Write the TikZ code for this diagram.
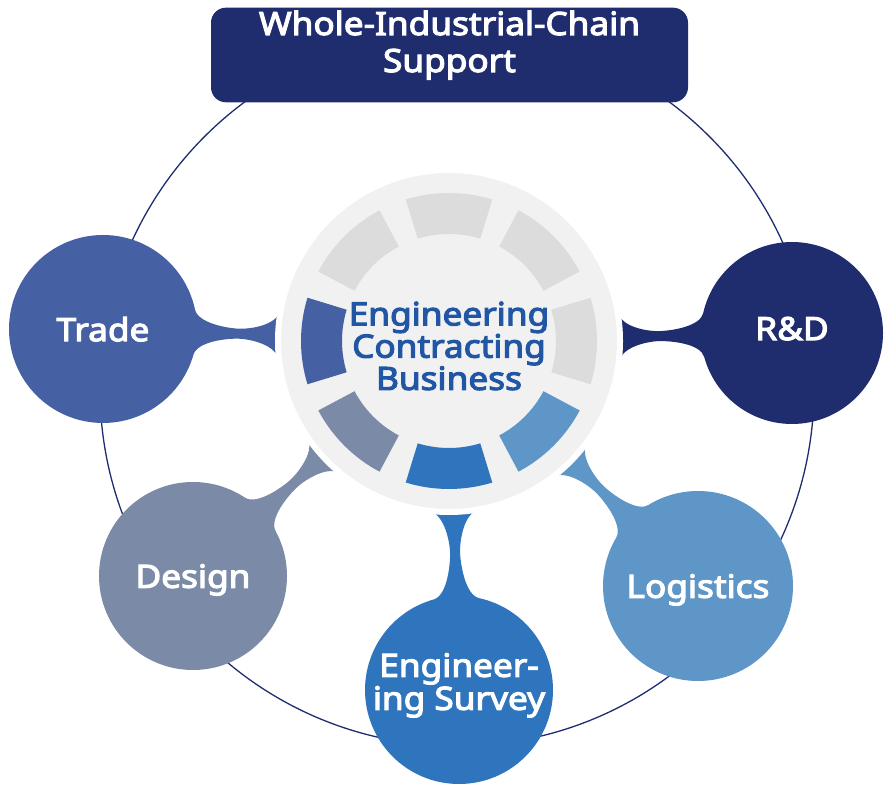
\documentclass[tikz,border=0pt]{standalone}
\usepackage{fontspec}
\setmainfont{Noto Sans}[AutoFakeBold=3.5, FakeStretch=1.1]
\usetikzlibrary{calc,backgrounds}

\definecolor{navy}{RGB}{31,44,110}
\definecolor{tradec}{RGB}{69,96,163}
\definecolor{designc}{RGB}{123,138,166}
\definecolor{surveyc}{RGB}{46,117,189}
\definecolor{logisc}{RGB}{95,150,200}
\definecolor{hubgrey}{RGB}{241,241,241}
\definecolor{seggrey}{RGB}{220,220,220}
\definecolor{hubtext}{RGB}{33,86,165}

% neck between a satellite (#1) and the hub, colour #2, satellite radius #3
\newcommand\drawneck[3]{%
  \fill[#2] let \p1=($(hub)-(#1)$), \n1={atan2(\y1,\x1)}, \n2={veclen(\x1,\y1)},
      \n3={#3+0.5*(\n2-#3-168)}, \n4={\n2-170} in
    ($(#1)+({\n1+14}:#3)$)
    .. controls ($(#1)+({\n1+14}:#3)+({\n1-76}:14)$) and ($(#1)+(\n1:{\n3-12})+({\n1+90}:5)$)
    .. ($(#1)+(\n1:\n3)+({\n1+90}:5)$)
    .. controls ($(#1)+(\n1:{\n3+12})+({\n1+90}:5)$) and ($(#1)+(\n1:{\n4-3})+({\n1+90}:10)$)
    .. ($(#1)+(\n1:\n4)+({\n1+90}:24)$)
    -- ($(#1)+(\n1:\n4)+({\n1-90}:24)$)
    .. controls ($(#1)+(\n1:{\n4-3})+({\n1-90}:10)$) and ($(#1)+(\n1:{\n3+12})+({\n1-90}:5)$)
    .. ($(#1)+(\n1:\n3)+({\n1-90}:5)$)
    .. controls ($(#1)+(\n1:{\n3-12})+({\n1-90}:5)$) and ($(#1)+({\n1-14}:#3)+({\n1+76}:14)$)
    .. ($(#1)+({\n1-14}:#3)$) -- cycle;}

\begin{document}
\begin{tikzpicture}[x=1pt, y=1pt,
    sat/.style={circle, inner sep=0pt, text=white, align=center, text depth=0pt,
      font=\bfseries\fontsize{32}{33}\selectfont},
    titlebox/.style={rectangle, rounded corners=15pt, fill=navy, text=white,
      minimum width=477pt, minimum height=94pt, align=center,
      text height=61pt, text depth=27pt, font=\bfseries\fontsize{32}{37}\selectfont},
    hubtxt/.style={text=hubtext, align=center, inner sep=0pt,
      font=\bfseries\fontsize{32}{29.5}\selectfont}]
  \useasboundingbox (0,0) rectangle (885,784);

  \draw[navy, line width=1.3pt] (457,395) circle[radius=357];

  \node[circle, fill=hubgrey, draw=white, line width=6pt, minimum size=342pt, inner sep=0pt] (hub) at (449,443) {};
  \foreach \a/\c in {0/seggrey, 45/seggrey, 90/seggrey, 135/seggrey,
                     180/tradec, 225/designc, 270/surveyc, 315/logisc}
    \fill[\c] ($(hub)+({\a-17}:148)$) arc[start angle=\a-17, end angle=\a+17, radius=148]
      -- ($(hub)+({\a+17}:107)$) arc[start angle=\a+17, end angle=\a-17, radius=107] -- cycle;
  \node[hubtxt] (ecb) at ([yshift=-5pt]hub.center) {Engineering\\Contracting\\Business};

  \node[sat, fill=tradec, minimum size=188pt] (trade) at (103,455) {Trade};
  \node[sat, fill=navy, minimum size=182pt, text depth=9pt] (rnd) at (792,451) {R\&D};
  \node[sat, fill=designc, minimum size=188pt] (design) at (193,208) {Design};
  \node[sat, fill=surveyc, minimum size=188pt, text depth=17pt] (survey) at (459,94) {Engineer-\\ing Survey};
  \node[sat, fill=logisc, minimum size=190pt] (logis) at (698,198) {Logistics};

  \node[titlebox] (title) at (449.5,729) {Whole-Industrial-Chain\\Support};

  \begin{scope}[on background layer]
    \drawneck{trade}{tradec}{94}
    \drawneck{rnd}{navy}{91}
    \drawneck{design}{designc}{94}
    \drawneck{survey}{surveyc}{94}
    \drawneck{logis}{logisc}{95}
  \end{scope}
\end{tikzpicture}
\end{document}
